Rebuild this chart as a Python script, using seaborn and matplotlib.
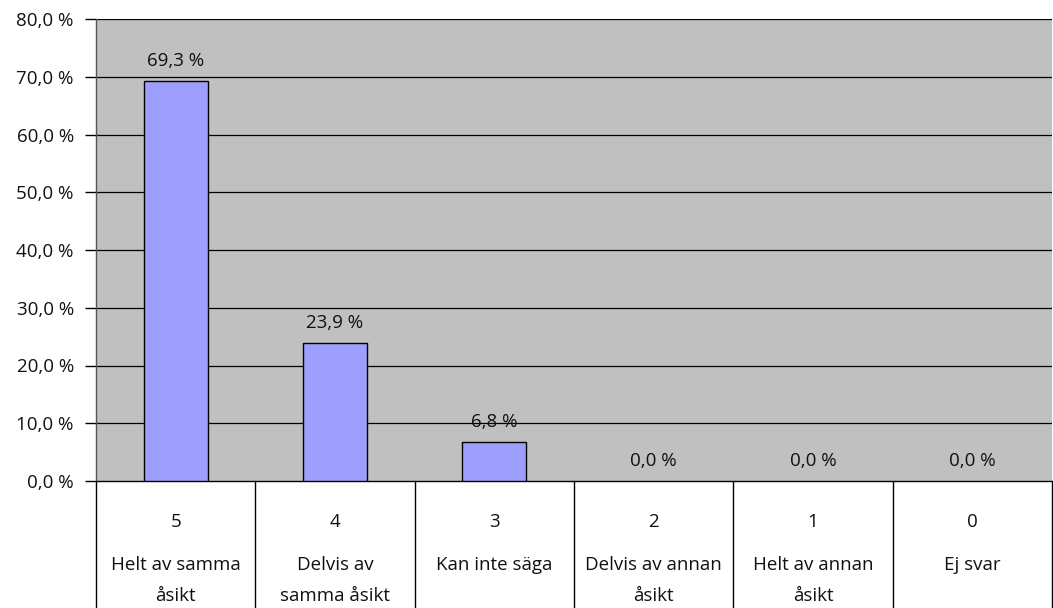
import matplotlib
matplotlib.use("Agg")
import matplotlib.pyplot as plt
import matplotlib.transforms as mtransforms
import numpy as np
import pandas as pd
import seaborn as sns

codes = ["5", "4", "3", "2", "1", "0"]
labels = ["Helt av samma\nåsikt", "Delvis av\nsamma åsikt", "Kan inte säga",
          "Delvis av annan\nåsikt", "Helt av annan\nåsikt", "Ej svar"]
shares = [69.3, 23.9, 6.8, 0.0, 0.0, 0.0]
yticks = [0, 10, 20, 30, 40, 50, 60, 70, 80]

BAR = "#9e9eff"
BG = "#c0c0c0"
FS = 13.5


def pct(v):
    return f"{v:.1f}".replace(".", ",") + " %"


sns.set_theme(style="white")
plt.rcParams["font.family"] = ["Open Sans", "DejaVu Sans"]

df = pd.DataFrame({"code": codes, "share": shares})

fig = plt.figure(figsize=(10.53, 6.08), dpi=100)
ax = fig.add_axes([96 / 1053, 127 / 608, 956 / 1053, 462 / 608])
ax.set_facecolor(BG)

sns.barplot(data=df, x="code", y="share", color=BAR, edgecolor="black",
            linewidth=1.0, width=0.4, saturation=1, ax=ax, zorder=3)
for p in ax.patches:
    if p.get_height() == 0:
        p.set_linewidth(0)

ax.set_ylim(0, 80)
ax.set_xlim(-0.5, len(codes) - 0.5)
ax.set_yticks(yticks)
ax.set_yticklabels([pct(v) for v in yticks], fontsize=FS, color="#111111")
ax.tick_params(axis="y", direction="out", length=8, width=1, color="black", pad=8, left=True)
ax.tick_params(axis="x", length=0, labelbottom=False)
for y in yticks[1:]:
    ax.axhline(y, color="black", lw=0.9, zorder=1)

for s in ["top", "right"]:
    ax.spines[s].set_visible(False)
ax.spines["left"].set_color("#555555")
ax.spines["left"].set_linewidth(1)
ax.spines["bottom"].set_color("black")
ax.spines["bottom"].set_linewidth(1)
ax.set_xlabel("")
ax.set_ylabel("")

# value labels
for i, v in enumerate(shares):
    ax.annotate(pct(v), (i, v), xytext=(0, 8), textcoords="offset points",
                ha="center", va="bottom", fontsize=FS, color="#111111", zorder=4)

# category table below axis
trans = mtransforms.blended_transform_factory(ax.transData, ax.transAxes)
px = 1 / 462
for b in np.arange(-0.5, len(codes), 1.0):
    ax.plot([b, b], [0, -127 * px], transform=trans, color="black", lw=1, clip_on=False)
for i, (c, lab) in enumerate(zip(codes, labels)):
    ax.text(i, -41 * px, c, transform=trans, ha="center", va="center",
            fontsize=FS, color="#111111")
    ax.text(i, -75 * px, lab, transform=trans, ha="center", va="top",
            fontsize=FS, color="#111111", linespacing=1.95)

fig.savefig("out.png", dpi=100)
